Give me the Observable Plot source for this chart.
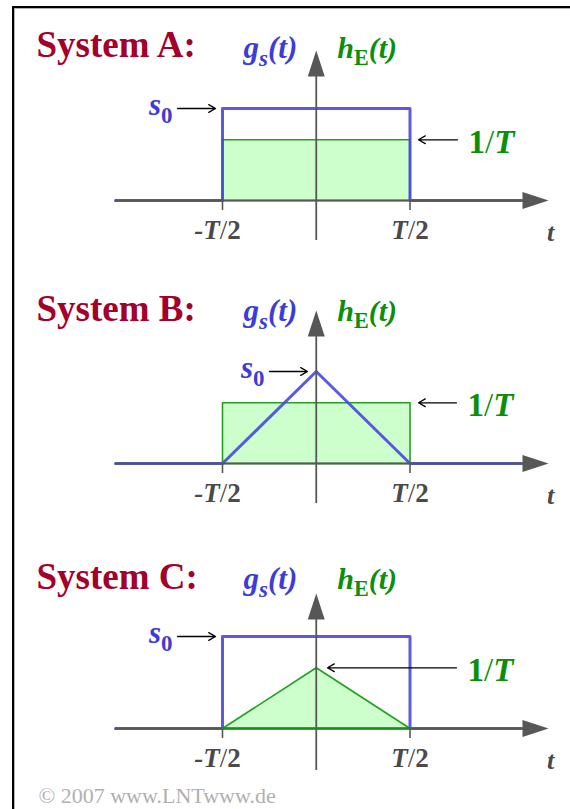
<!DOCTYPE html>
<html>
<head>
<meta charset="utf-8">
<script src="https://cdn.jsdelivr.net/npm/d3@7"></script>
<script src="https://cdn.jsdelivr.net/npm/@observablehq/plot@0.6"></script>
<style>
  html, body { margin: 0; padding: 0; background: #fff; }
  #fig { position: relative; width: 570px; height: 809px; overflow: hidden; }
  #frame { position: absolute; left: 12px; top: 6px; width: 620px; height: 900px;
           border-top: 2px solid #000; border-left: 2px solid #000;
           box-shadow: inset 1px 1px 0 #b0b0b0; }
  .panel { position: absolute; left: 0; }
</style>
</head>
<body>
<div id="fig"><div id="frame"></div></div>
<script>
// ---- data -------------------------------------------------------------
const titles = ["System A:", "System B:", "System C:"];
const tTicks = [-0.5, 0.5];                 // -T/2 and T/2 (time in units of T)
const tTickLabels = ["-T/2", "T/2"];
const s0 = 1;                               // peak of the transmit pulse g_s(t)
const hPeak = 0.66;                         // 1/T, peak of h_E(t) relative to s0
const rectT = [-0.5, -0.5, 0.5, 0.5];
const rectV = [0, 1, 1, 0];
const triT = [-0.5, 0, 0.5];
const triV = [0, 1, 0];
const gsKind = ["rect", "tri", "rect"];     // transmit pulse shape per system
const hEKind = ["rect", "rect", "tri"];     // receive filter shape per system

const shapes = { rect: { t: rectT, v: rectV }, tri: { t: triT, v: triV } };

// ---- layout & style ---------------------------------------------------
const X0 = 315.75, PX_T = 187.5, UNIT = 92;
const tx = px => (px - X0) / PX_T;           // pixel column -> time value
const layout = [
  { top: 0,   height: 270, axisY: 200, tipY: 50, bottomY: 240, titleY: 56, headY: 57,
    s0Arrow: [177, 215], hArrow: [457, 418] },
  { top: 270, height: 270, axisY: 193, tipY: 40, bottomY: 233, titleY: 50, headY: 50,
    s0Arrow: [269, 307], hArrow: [456, 418] },
  { top: 540, height: 269, axisY: 188, tipY: 53, bottomY: 230, titleY: 48, headY: 48,
    s0Arrow: [177, 215], hArrow: [456, 327] }
];
const SERIF = "Liberation Serif, Times New Roman, serif";
const BLUE = "#4848e0", BLUE_TXT = "#3c3cd8";
const GREEN = "#22a022", GREEN_TXT = "#0a8f0a", GREEN_FILL = "#ccffcc";
const RED = "#a3002a", AXIS = "#575757", TICKTXT = "#4a4a4a";

const axisHead = {
  draw(ctx) { ctx.moveTo(0, 0); ctx.lineTo(8.5, 26); ctx.lineTo(-8.5, 26); ctx.closePath(); }
};

// rich text: subscripts and mixed upright / italic parts
const RICH = {
  "g_s(t)": [{ s: "g" }, { s: "s", sub: true }, { s: "(t)" }],
  "h_E(t)": [{ s: "h" }, { s: "E", sub: true, up: true }, { s: "(t)" }],
  "s_0":    [{ s: "s" }, { s: "0", sub: true, up: true }],
  "1/T":    [{ s: "1", up: true }, { s: "/", up: true, light: true }, { s: "T" }],
  "-T/2":   [{ s: "-" }, { s: "T" }, { s: "/", up: true, light: true }, { s: "2", up: true }],
  "T/2":    [{ s: "T" }, { s: "/", up: true, light: true }, { s: "2", up: true }]
};
const NS = "http://www.w3.org/2000/svg";
function enrich(svg) {
  for (const el of svg.querySelectorAll("text")) {
    const parts = RICH[el.textContent];
    if (!parts) continue;
    const g = el.closest("g[font-size]");
    const fs = g ? parseFloat(g.getAttribute("font-size")) : 20;
    el.textContent = "";
    let shift = 0;
    for (const p of parts) {
      const ts = document.createElementNS(NS, "tspan");
      ts.textContent = p.s;
      const target = p.sub ? fs * 0.26 : 0;
      if (target !== shift) { ts.setAttribute("dy", target - shift); shift = target; }
      if (p.sub) ts.setAttribute("font-size", fs * 0.74);
      if (p.up) ts.setAttribute("font-style", "normal");
      if (p.light) ts.setAttribute("font-weight", "normal");
      el.appendChild(ts);
    }
  }
}

const mathText = { fontFamily: SERIF, fontWeight: "bold", fontStyle: "italic", lineAnchor: "bottom" };

function panel(i) {
  const L = layout[i];
  const gs = shapes[gsKind[i]], he = shapes[hEKind[i]];
  const xLeft = tx(115), xTip = tx(548), xBlueEnd = tx(521);
  const vTip = (L.axisY - L.tipY) / UNIT, vBottom = (L.axisY - L.bottomY) / UNIT;
  const tickLen = -10 / UNIT;

  const gsPts = [{ t: xLeft, v: 0 }, ...gs.t.map((t, k) => ({ t, v: s0 * gs.v[k] })), { t: xBlueEnd, v: 0 }];
  const hePts = he.t.map((t, k) => ({ t, v: hPeak * he.v[k] }));
  const heOutline = [...hePts, hePts[0]];

  const marks = [
    Plot.areaY(hePts, { x: "t", y: "v", fill: GREEN_FILL }),
    Plot.line(heOutline, { x: "t", y: "v", stroke: GREEN, strokeWidth: 1.6 }),
    Plot.line(gsPts, { x: "t", y: "v", stroke: BLUE, strokeWidth: 3, strokeOpacity: 0.9 }),
    // axes
    Plot.ruleY([0], { x1: xLeft, x2: xTip - 0.05, stroke: AXIS, strokeWidth: 2 }),
    Plot.ruleX([0], { y1: vBottom, y2: vTip - 0.1, stroke: AXIS, strokeWidth: 1.8 }),
    Plot.dot([{ x: xTip, y: 0 }], { x: "x", y: "y", symbol: axisHead, rotate: 90, fill: AXIS, stroke: "none" }),
    Plot.dot([{ x: 0, y: vTip }], { x: "x", y: "y", symbol: axisHead, fill: AXIS, stroke: "none" }),
    Plot.ruleX(tTicks, { x: d => d, y1: 0, y2: tickLen, stroke: AXIS, strokeWidth: 1.6 }),
    // tick labels
    Plot.text(tTicks, { x: d => d, y: () => 0, text: (d, k) => tTickLabels[k], filter: d => d < 0,
      dx: -5, dy: 38, textAnchor: "middle", fill: TICKTXT, fontSize: 27, ...mathText }),
    Plot.text(tTicks, { x: d => d, y: () => 0, text: (d, k) => tTickLabels[k], filter: d => d > 0,
      dy: 38, textAnchor: "middle", fill: TICKTXT, fontSize: 27, ...mathText }),
    Plot.text(["t"], { x: () => tx(550), y: () => 0, text: d => d, dy: 40, textAnchor: "middle",
      fill: TICKTXT, fontSize: 26, ...mathText }),
    // title
    Plot.text([titles[i]], { frameAnchor: "top-left", text: d => d, dx: 36, dy: L.titleY,
      lineAnchor: "bottom", textAnchor: "start", fill: RED, fontSize: 37,
      fontFamily: SERIF, fontWeight: "bold" }),
    // function names beside the vertical axis
    Plot.text(["g_s(t)"], { x: () => 0, frameAnchor: "top", text: d => d, dx: -19, dy: L.headY,
      textAnchor: "end", fill: BLUE_TXT, fontSize: 31, ...mathText }),
    Plot.text(["h_E(t)"], { x: () => 0, frameAnchor: "top", text: d => d, dx: 21, dy: L.headY,
      textAnchor: "start", fill: GREEN_TXT, fontSize: 30, ...mathText }),
    // s0 and 1/T markers
    Plot.arrow([{ x1: tx(L.s0Arrow[0]), x2: tx(L.s0Arrow[1]), y: s0 }],
      { x1: "x1", x2: "x2", y1: "y", y2: "y", stroke: "#000", strokeWidth: 1.3, headLength: 9 }),
    Plot.text([{ x: tx(L.s0Arrow[0]), y: s0 }], { x: "x", y: "y", text: () => "s_0", dx: -5, dy: 6,
      textAnchor: "end", fill: BLUE_TXT, fontSize: 31, ...mathText }),
    Plot.arrow([{ x1: tx(L.hArrow[0]), x2: tx(L.hArrow[1]), y: hPeak }],
      { x1: "x1", x2: "x2", y1: "y", y2: "y", stroke: "#000", strokeWidth: 1.3, headLength: 9 }),
    Plot.text([{ x: tx(L.hArrow[0]), y: hPeak }], { x: "x", y: "y", text: () => "1/T", dx: 11, dy: 13,
      textAnchor: "start", fill: GREEN_TXT, fontSize: 33, ...mathText })
  ];
  if (hEKind[i] === "tri") {
    // the triangular filter's base sits on top of the time axis
    marks.push(Plot.ruleY([0], { x1: he.t[0], x2: he.t[he.t.length - 1], stroke: "#1a8a1a", strokeWidth: 2.2 }));
  }
  if (i === 2) {
    marks.push(Plot.text(["© 2007 www.LNTwww.de"], { frameAnchor: "top-left", text: d => d, dx: 38, dy: 262,
      lineAnchor: "bottom", textAnchor: "start", fill: "#b0b0b0", fontSize: 22, fontFamily: SERIF }));
  }

  const svg = Plot.plot({
    width: 570, height: L.height, margin: 0,
    x: { domain: [-0.5, 0.5], range: [X0 - PX_T / 2, X0 + PX_T / 2], axis: null },
    y: { domain: [0, 1], range: [L.axisY, L.axisY - UNIT], axis: null },
    style: { background: "transparent", overflow: "visible" },
    marks
  });
  enrich(svg);
  svg.classList.add("panel");
  svg.style.top = L.top + "px";
  return svg;
}

const fig = document.getElementById("fig");
titles.forEach((_, i) => fig.appendChild(panel(i)));
</script>
</body>
</html>
